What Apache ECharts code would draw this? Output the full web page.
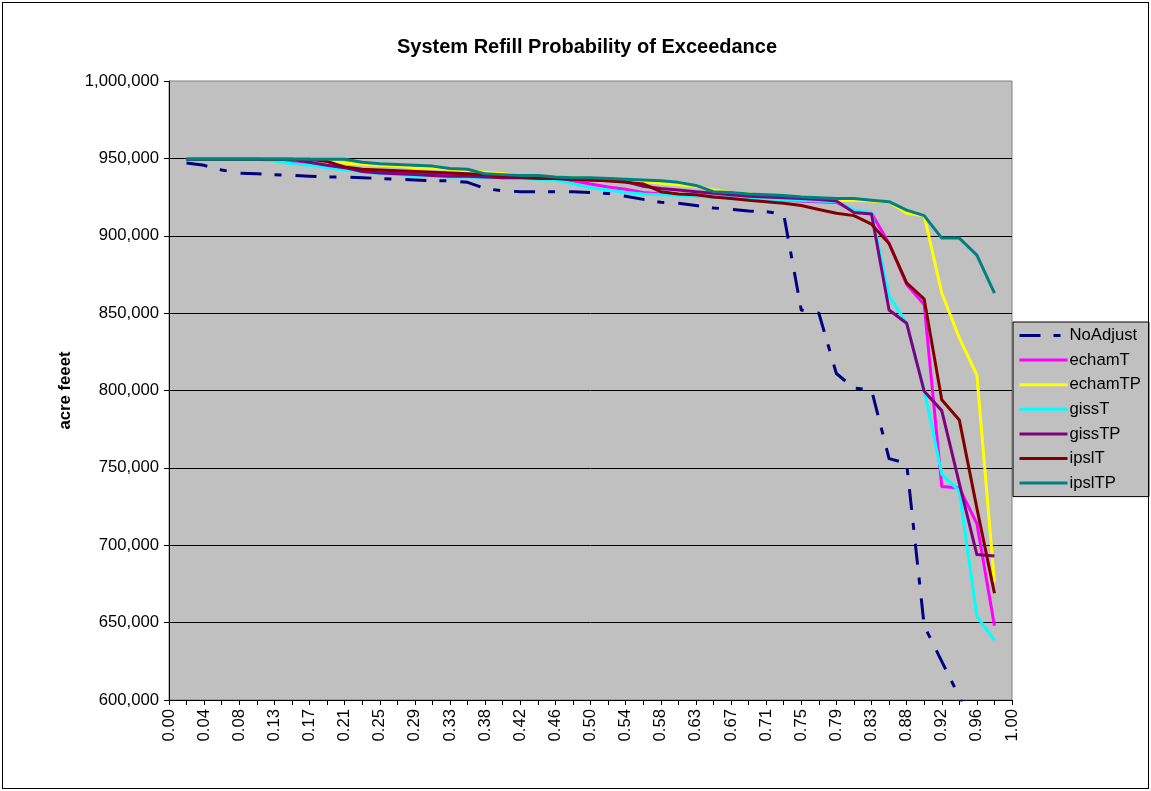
<!DOCTYPE html>
<html>
<head>
<meta charset="utf-8">
<script src="https://cdn.jsdelivr.net/npm/echarts@6/dist/echarts.min.js"></script>
<style>
html,body{margin:0;padding:0;background:#fff;}
#wrap{position:absolute;left:0;top:0;width:1151px;height:791px;}
#frame{position:absolute;left:2px;top:2px;width:1145px;height:785px;border:1px solid #000;pointer-events:none;}
#chart{position:absolute;left:0;top:0;width:1151px;height:791px;}
</style>
</head>
<body>
<div id="wrap"><div id="chart"></div><div id="frame"></div></div>
<script>
// x categories: exceedance probability i/48
const categories = ["0.00","0.02","0.04","0.06","0.08","0.10","0.13","0.15","0.17","0.19","0.21","0.23","0.25","0.27","0.29","0.31","0.33","0.35","0.38","0.40","0.42","0.44","0.46","0.48","0.50","0.52","0.54","0.56","0.58","0.60","0.63","0.65","0.67","0.69","0.71","0.73","0.75","0.77","0.79","0.81","0.83","0.85","0.88","0.90","0.92","0.94","0.96","0.98","1.00"];

const yTicks = [600000, 650000, 700000, 750000, 800000, 850000, 900000, 950000, 1000000];

const seriesNames = ["NoAdjust","echamT","echamTP","gissT","gissTP","ipslT","ipslTP"];

// values at categories 0.02 .. 0.98 (47 points)
const noAdjust = [947000,945500,942500,940500,940000,939500,939000,938500,938000,938000,937500,937000,936500,936000,935500,935500,934500,930500,929000,928500,928500,928500,928500,928000,927300,925500,923500,921600,921000,919500,918000,917000,916000,915500,914000,852000,850000,811000,801500,800500,756000,753000,648000,625000,602000,575000,545000];
const echamT = [949500,949500,949500,949500,949500,949000,947500,946000,944500,943000,942000,941500,941000,940500,940000,939500,939000,938500,938000,937500,937000,936500,935500,933500,931500,930000,928000,927000,926500,926000,925000,924500,924000,923500,923000,922500,922000,921500,916000,914500,895000,868500,855500,738000,737000,714000,648000];
const echamTP = [949500,949500,949500,949500,949500,949500,949500,949500,948000,947000,946000,945500,945000,944000,943500,943000,942000,941000,940000,939000,938500,938000,937500,937000,936500,936000,935000,934000,933000,932000,929500,928000,927000,926000,925000,924500,924000,923000,923000,922500,922000,914500,913000,863000,834000,810000,676000];
const gissT = [949500,949500,949500,949500,949500,948500,946500,945500,944000,942500,941500,940000,939500,939000,938500,938000,938000,937500,937500,937000,936500,936000,933500,931000,929500,928000,927000,926500,926000,925500,925000,924500,924000,923500,923000,923000,922500,922000,916500,915000,861000,843500,800500,746000,735000,654000,638500];
const gissTP = [949500,949500,949500,949500,949500,949500,949500,947500,945500,944000,941500,940500,940000,939500,939000,938500,938500,938000,937500,937500,937000,937000,936500,936000,935500,935000,932000,930500,929500,928500,927500,926500,925500,925000,924500,924000,923500,922500,915000,914000,852000,843500,799500,787000,740000,694000,693000];
const ipslT = [949500,949500,949500,949500,949500,949500,949500,949500,948000,944500,943000,942500,942000,941500,941000,940500,940000,939500,938500,938000,937500,937000,936500,936000,935500,934500,933500,928500,927000,926500,925000,924000,923000,922000,921000,919500,917000,914500,913000,907500,895000,869500,859000,794000,781000,724000,669000];
const ipslTP = [949500,949500,949500,949500,949500,949500,949500,949500,949500,949500,947500,946500,946000,945500,945000,943500,943000,940000,939500,939000,939000,938000,937500,937500,937000,936500,936000,935500,934500,932500,928500,928000,927000,926500,926000,925000,924500,924000,924000,923000,922000,916600,913000,898500,898500,887500,863000];

const seriesValues = [noAdjust, echamT, echamTP, gissT, gissTP, ipslT, ipslTP];
const seriesColors = ["#000080","#FF00FF","#FFFF00","#00FFFF","#800080","#800000","#008080"];

const FONT = "'Liberation Sans', Arial, Helvetica, sans-serif";

const chart = echarts.init(document.getElementById('chart'), null, {renderer: 'canvas'});

const series = seriesNames.map((name, i) => ({
  name: name,
  type: 'line',
  data: [null].concat(seriesValues[i], [null]),
  symbol: 'none',
  showSymbol: false,
  connectNulls: false,
  clip: true,
  lineStyle: {
    color: seriesColors[i],
    width: 3,
    type: i === 0 ? [21, 13, 7, 14] : 'solid',
    cap: 'butt',
    join: 'round'
  },
  itemStyle: {color: seriesColors[i]},
  emphasis: {disabled: true},
  animation: false
}));

chart.setOption({
  animation: false,
  backgroundColor: '#ffffff',
  textStyle: {fontFamily: FONT, color: '#000'},
  title: {
    text: 'System Refill Probability of Exceedance',
    left: 582,
    top: 32,
    textAlign: 'center',
    textStyle: {fontFamily: FONT, fontSize: 20, fontWeight: 'bold', color: '#000'}
  },
  grid: {
    left: 169, top: 81, right: 139, bottom: 91,
    containLabel: false,
    outerBoundsMode: 'none',
    show: true,
    backgroundColor: '#C0C0C0',
    borderColor: '#808080',
    borderWidth: 1
  },
  legend: {
    data: seriesNames,
    orient: 'vertical',
    left: 1013,
    top: 322,
    backgroundColor: '#C0C0C0',
    borderColor: '#000',
    borderWidth: 1,
    padding: [5, 8, 5, 5],
    itemWidth: 48,
    itemHeight: 18,
    itemGap: 7.6,
    selectedMode: false,
    itemStyle: {opacity: 0, borderWidth: 0},
    lineStyle: {width: 3},
    textStyle: {fontFamily: FONT, fontSize: 16.7, color: '#000', padding: [0, 0, 0, -3]}
  },
  xAxis: {
    type: 'category',
    data: categories,
    boundaryGap: false,
    axisLine: {show: true, lineStyle: {color: '#000', width: 1}},
    axisTick: {show: true, interval: 0, length: 5, lineStyle: {color: '#000'}},
    axisLabel: {
      interval: 1,
      rotate: 90,
      margin: 9,
      fontFamily: FONT,
      fontSize: 16.7,
      color: '#000'
    },
    splitLine: {show: false}
  },
  yAxis: {
    type: 'value',
    min: yTicks[0],
    max: yTicks[yTicks.length - 1],
    interval: yTicks[1] - yTicks[0],
    name: 'acre feeet',
    nameLocation: 'middle',
    nameRotate: 90,
    nameGap: 95,
    nameTextStyle: {fontFamily: FONT, fontSize: 16.7, fontWeight: 'bold', color: '#000'},
    axisLine: {show: true, lineStyle: {color: '#000', width: 1}},
    axisTick: {show: true, length: 5, lineStyle: {color: '#000'}},
    axisLabel: {
      margin: 10,
      fontFamily: FONT,
      fontSize: 16.7,
      color: '#000',
      formatter: v => v.toLocaleString('en-US')
    },
    splitLine: {show: true, showMaxLine: false, showMinLine: false, lineStyle: {color: '#000', width: 1}}
  },
  series: series
});
</script>
</body>
</html>
